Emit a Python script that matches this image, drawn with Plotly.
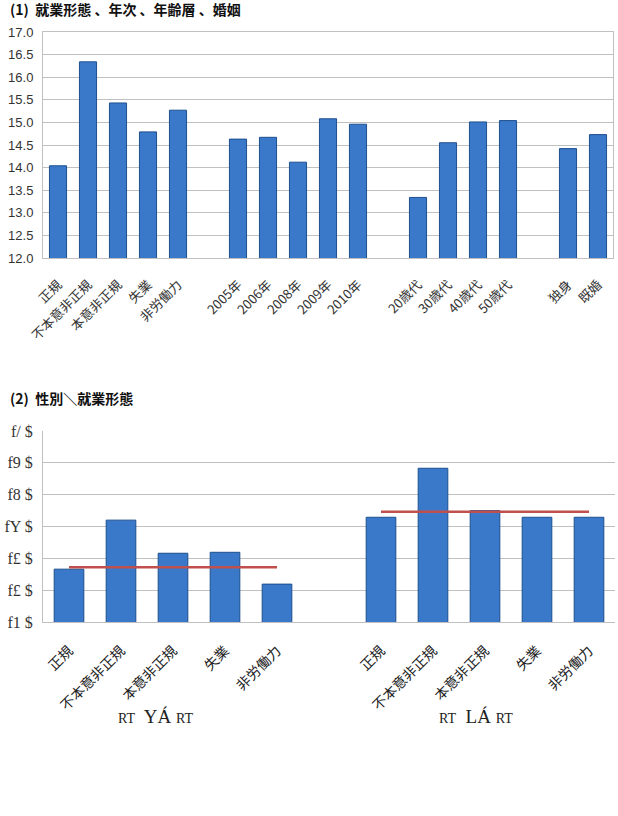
import plotly.graph_objects as go

# ---- Chart (1) data ----
groups1 = [
    ["正規", "不本意非正規", "本意非正規", "失業", "非労働力"],
    ["2005年", "2006年", "2008年", "2009年", "2010年"],
    ["20歳代", "30歳代", "40歳代", "50歳代"],
    ["独身", "既婚"],
]
values1 = [
    [14.04, 16.34, 15.43, 14.79, 15.27],
    [14.63, 14.67, 14.12, 15.08, 14.96],
    [13.34, 14.55, 15.01, 15.04],
    [14.42, 14.73],
]
y1_ticks = [12.0, 12.5, 13.0, 13.5, 14.0, 14.5, 15.0, 15.5, 16.0, 16.5, 17.0]

# ---- Chart (2) data ----
cats2 = ["正規", "不本意非正規", "本意非正規", "失業", "非労働力"]
male = [13.66, 15.20, 14.16, 14.19, 13.19]
female = [15.29, 16.83, 15.50, 15.29, 15.29]
male_mean = 13.72
female_mean = 15.46
y2_tickvals = [12, 13, 14, 15, 16, 17, 18]
y2_ticktext = ["f1 $", "f£ $", "f£ $", "fY $", "f8 $", "f9 $", "f/ $"]
group_marks2 = ["YÁ", "LÁ"]

BAR = "#3a79c9"
EDGE = "#1d4f8e"
GRID = "#c0c0c0"
CJK = "Noto Sans CJK JP"

fig = go.Figure()

# build positions for chart 1 (one empty slot between groups)
x1, xl1, v1 = [], [], []
pos = 0
for g, vals in zip(groups1, values1):
    for c, v in zip(g, vals):
        x1.append(pos); xl1.append(c); v1.append(v)
        pos += 1
    pos += 1
n1 = pos - 1

fig.add_trace(go.Bar(x=x1, y=v1, marker=dict(color=BAR, line=dict(color=EDGE, width=1)),
                     width=0.57, xaxis="x", yaxis="y", showlegend=False))

# chart 2 positions
xm = list(range(len(cats2)))
xf = [len(cats2) + 1 + i for i in range(len(cats2))]
n2 = len(cats2) * 2 + 1
fig.add_trace(go.Bar(x=xm, y=male, marker=dict(color=BAR, line=dict(color=EDGE, width=1)),
                     width=0.57, xaxis="x2", yaxis="y2", showlegend=False))
fig.add_trace(go.Bar(x=xf, y=female, marker=dict(color=BAR, line=dict(color=EDGE, width=1)),
                     width=0.57, xaxis="x2", yaxis="y2", showlegend=False))
fig.add_trace(go.Scatter(x=[xm[0], xm[-1]], y=[male_mean] * 2, mode="lines",
                         line=dict(color="#c0504d", width=2.5), xaxis="x2", yaxis="y2", showlegend=False))
fig.add_trace(go.Scatter(x=[xf[0], xf[-1]], y=[female_mean] * 2, mode="lines",
                         line=dict(color="#c0504d", width=2.5), xaxis="x2", yaxis="y2", showlegend=False))

W, H = 618, 816
def py(p):
    return 1 - p / H

fig.update_layout(
    width=W, height=H, margin=dict(l=0, r=0, t=0, b=0),
    paper_bgcolor="white", plot_bgcolor="white",
    xaxis=dict(domain=[43 / W, 613 / W], range=[-0.5, n1 - 0.5], tickvals=x1, ticktext=xl1,
               tickangle=-45, showgrid=False, showline=True, linecolor=GRID, linewidth=1,
               ticks="outside", ticklen=13, tickcolor="rgba(0,0,0,0)", automargin=False,
               tickfont=dict(family=CJK, size=13, color="#333"), anchor="y", mirror=True),
    yaxis=dict(domain=[py(258), py(32)], range=[12, 17], tickvals=y1_ticks,
               ticktext=[f"{t:.1f}" for t in y1_ticks], showgrid=True, gridcolor=GRID,
               showline=True, linecolor=GRID, linewidth=1, ticks="outside", ticklen=6,
               tickcolor="rgba(0,0,0,0)", mirror=True, automargin=False,
               tickfont=dict(family="Liberation Sans", size=13, color="#333"), anchor="x"),
    xaxis2=dict(domain=[43 / W, 615 / W], range=[-0.5, n2 - 0.5], tickvals=xm + xf,
                ticktext=cats2 + cats2, tickangle=-45, showgrid=False, showline=True,
                linecolor=GRID, linewidth=1, ticks="outside", ticklen=14,
                tickcolor="rgba(0,0,0,0)", anchor="y2", automargin=False,
                tickfont=dict(family=CJK, size=14, color="#222")),
    yaxis2=dict(domain=[py(622), py(431)], range=[12, 18], tickvals=y2_tickvals, ticktext=y2_ticktext,
                showgrid=True, gridcolor=GRID, showline=True, linecolor=GRID, linewidth=1,
                ticks="outside", ticklen=6, tickcolor="rgba(0,0,0,0)", automargin=False,
                tickfont=dict(family="Liberation Serif", size=16, color="#333"), anchor="x2"),
)

fig.add_annotation(x=8 / W, y=py(9), xref="paper", yref="paper", xanchor="left", yanchor="middle",
                   text="<b>(1)  就業形態 、年次 、年齢層 、婚姻</b>", showarrow=False,
                   font=dict(family=CJK, size=14, color="#111"))
fig.add_annotation(x=8 / W, y=py(398), xref="paper", yref="paper", xanchor="left", yanchor="middle",
                   text="<b>(2)  性別＼就業形態</b>", showarrow=False,
                   font=dict(family=CJK, size=14, color="#111"))
for mark, xs, shift in zip(group_marks2, [xm, xf], [-17, -9]):
    small = "<span style='font-size:14px'>RT</span>"
    fig.add_annotation(x=(xs[0] + xs[-1]) / 2, y=py(716), xref="x2", yref="paper",
                       text=f"{small}  {mark} {small}", showarrow=False, xanchor="center",
                       yanchor="middle", xshift=shift,
                       font=dict(family="Liberation Serif", size=19, color="#222"))

fig.write_html("out.html")
